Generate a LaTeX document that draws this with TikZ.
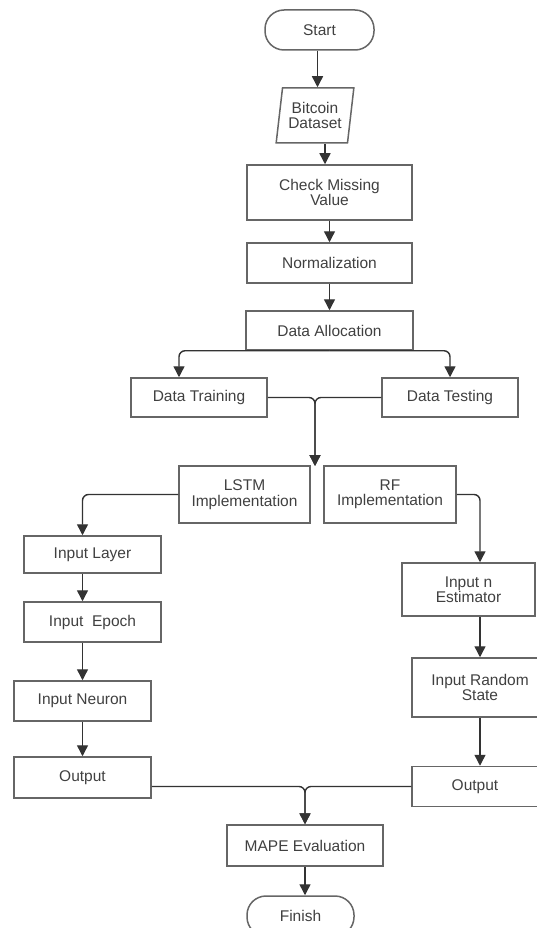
\documentclass[tikz,border=0pt]{standalone}
\usepackage{fontspec}
\setmainfont{Liberation Sans}
\usetikzlibrary{shapes.geometric,arrows.meta}

\begin{document}
\begin{tikzpicture}[x=1pt,y=-1pt,
    font=\fontsize{15.5}{15.5}\selectfont,
    box/.style={draw=black!60, line width=1.5pt, text=black!75, inner sep=0pt, align=center},
    proc/.style={box, rectangle},
    term/.style={box, rectangle, rounded corners=19pt},
    io/.style={box, trapezium, trapezium left angle=79, trapezium right angle=101, trapezium stretches=true},
    arr/.style={draw=black!80, line width=1.4pt, -{Triangle[length=11pt,width=11pt]}},
    link/.style={arr, rounded corners=6pt}
]
    \useasboundingbox (0,0) rectangle (536,928);

    % main line
    \node[term, minimum width=109pt, minimum height=40pt] (start) at (319.5,30) {Start};
    \node[io, minimum width=78pt, minimum height=55pt] (data) at (315,115.5) {Bitcoin\\Dataset};
    \node[proc, minimum width=165pt, minimum height=55pt] (check) at (329.5,192.5) {Check Missing\\Value};
    \node[proc, minimum width=165pt, minimum height=40pt] (norm) at (329.5,263) {Normalization};
    \node[proc, minimum width=167pt, minimum height=39pt] (alloc) at (329.5,330.5) {Data Allocation};
    \node[proc, minimum width=136pt, minimum height=39pt] (train) at (199,397.5) {Data Training};
    \node[proc, minimum width=136pt, minimum height=39pt] (test) at (450,397.5) {Data Testing};
    \node[proc, minimum width=131pt, minimum height=57pt] (lstm) at (244.5,494.5) {LSTM\\Implementation};
    \node[proc, minimum width=132pt, minimum height=57pt] (rf) at (390,494.5) {RF\\Implementation};
    \coordinate (split) at (315,466);

    % LSTM
    \node[proc, minimum width=137pt, minimum height=37pt] (layer) at (92.5,554.5) {Input Layer};
    \node[proc, minimum width=137pt, minimum height=40pt] (epoch) at (92.5,622) {Input\ \ Epoch};
    \node[proc, minimum width=137pt, minimum height=40pt] (neuron) at (82.5,701) {Input Neuron};
    \node[proc, minimum width=137pt, minimum height=41pt] (outl) at (82.5,777.5) {Output};

    % RF
    \node[proc, minimum width=133pt, minimum height=53pt] (est) at (468.5,589.5) {Input n\\Estimator};
    \node[proc, minimum width=136pt, minimum height=59pt] (rstate) at (480,687.5) {Input Random\\State};
    \node[proc, minimum width=126pt, minimum height=40pt] (outr) at (475,786.5) {Output};

    \node[proc, minimum width=156pt, minimum height=41pt] (mape) at (305,845.5) {MAPE Evaluation};
    \node[term, minimum width=107pt, minimum height=40pt] (finish) at (300.5,916) {Finish};

    \draw[arr] ([xshift=-2pt]start.south) -- ([xshift=-2pt]start.south |- data.north);
    \draw[arr] ([xshift=-4.5pt]check.north |- data.south) -- ([xshift=-4.5pt]check.north);
    \draw[arr] (check) -- (norm);
    \draw[arr] (norm) -- (alloc);
    \draw[link] (alloc.south) -| ([xshift=-20pt]train.north);
    \draw[link] (alloc.south) -| (test.north);
    \draw[link] (train.east) -| (split);
    \draw[link] (test.west) -| (split);

    \draw[link] (lstm.west) -| (layer.north -| neuron.north);
    \draw[arr] (layer.south -| neuron.north) -- (epoch.north -| neuron.north);
    \draw[arr] (epoch.south -| neuron.north) -- (neuron.north);
    \draw[arr] (neuron) -- (outl);

    \draw[link] (rf.east) -| (est.north -| rstate.north);
    \draw[arr] (est.south -| rstate.north) -- (rstate.north);
    \draw[arr] (rstate.south) -- (rstate.south |- outr.north);

    \draw[link] (outl.east |- outr.west) -| (mape.north);
    \draw[link] (outr.west) -| (mape.north);
    \draw[arr] (mape.south) -- (mape.south |- finish.north);
\end{tikzpicture}
\end{document}
